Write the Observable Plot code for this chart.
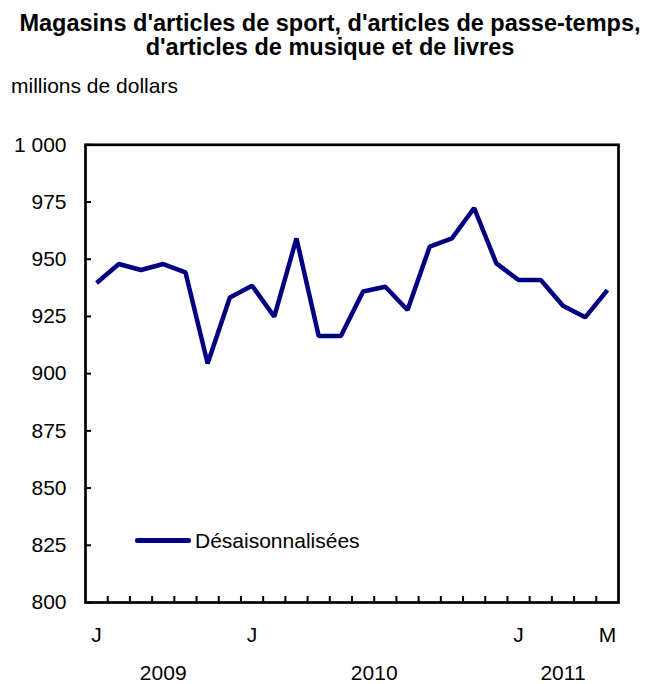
<!DOCTYPE html>
<html>
<head>
<meta charset="utf-8">
<script src="https://cdn.jsdelivr.net/npm/d3@7"></script>
<script src="https://cdn.jsdelivr.net/npm/@observablehq/plot@0.6"></script>
<style>
  html, body { margin: 0; padding: 0; background: white; }
  #wrap { position: relative; width: 652px; height: 684px; font-family: "Liberation Sans", Arial, sans-serif; color: black; }
  #title { position: absolute; left: 8px; top: 12px; width: 644px; text-align: center; font-weight: bold; font-size: 23.5px; line-height: 23.5px; }
  #unit { position: absolute; left: 11px; top: 75px; font-size: 21px; line-height: 21px; }
  #legend { position: absolute; left: 135px; top: 529.5px; font-size: 21px; line-height: 21px; display: flex; align-items: center; }
  #legend .sw { width: 56px; height: 4.5px; background: #000080; border-radius: 2.25px; margin-right: 4px; margin-top: 1px; }
  #chart { position: absolute; left: 0; top: 0; }
</style>
</head>
<body>
<div id="wrap">
  <div id="chart"></div>
  <div id="title">Magasins d'articles de sport, d'articles de passe-temps,<br>d'articles de musique et de livres</div>
  <div id="unit">millions de dollars</div>
  <div id="legend"><span class="sw"></span><span id="legendText"></span></div>
</div>
<script>
const months = ["juin 2009","juil. 2009","août 2009","sept. 2009","oct. 2009","nov. 2009","déc. 2009",
  "janv. 2010","févr. 2010","mars 2010","avr. 2010","mai 2010","juin 2010","juil. 2010","août 2010","sept. 2010","oct. 2010","nov. 2010","déc. 2010",
  "janv. 2011","févr. 2011","mars 2011","avr. 2011","mai 2011"];
const values = [939.6, 947.9, 945.3, 947.9, 944.3, 904.4, 933.3, 938.4, 924.9, 959.1, 916.5, 916.5,
  935.9, 938.0, 927.8, 955.5, 959.1, 972.4, 948.2, 940.9, 940.9, 929.7, 924.6, 936.5];
const seriesName = "Désaisonnalisées";
const tickMonths = ["juin 2009", "janv. 2010", "janv. 2011", "mai 2011"];
const tickLabels = ["J", "J", "J", "M"];
const years = ["2009", "2010", "2011"];
const yTicks = [800, 825, 850, 875, 900, 925, 950, 975, 1000];

document.getElementById("legendText").textContent = seriesName;

const data = months.map((m, i) => ({i, month: m, value: values[i]}));
const tickIdx = tickMonths.map(m => months.indexOf(m));
const boundaries = months.slice(1).map((_, i) => i + 0.5);
const yearCenters = years.map(y => d3.mean(months.map((m, i) => m.endsWith(y) ? i : null).filter(v => v !== null)));
const fr = d3.formatLocale({decimal: ",", thousands: " ", grouping: [3], currency: ["", " $"]});
const fmtY = fr.format(",d");

const chart = Plot.plot({
  width: 652,
  height: 684,
  marginLeft: 85,
  marginRight: 34,
  marginTop: 144.3,
  marginBottom: 82,
  style: {fontFamily: "'Liberation Sans', Arial, sans-serif", fontSize: "21px", color: "black", background: "transparent", overflow: "visible"},
  x: {type: "linear", domain: [-0.5, months.length - 0.5], label: null},
  y: {domain: [800, 1000], label: null},
  marks: [
    Plot.axisY(yTicks, {tickSize: 0, tickPadding: 19, tickFormat: fmtY, fontSize: 21, label: null}),
    Plot.axisY(yTicks, {tickSize: -6, text: null, strokeWidth: 2, label: null}),
    Plot.axisX(boundaries, {tickSize: -6, text: null, strokeWidth: 2, label: null}),
    Plot.axisX(tickIdx, {tickSize: 0, tickPadding: 25, fontSize: 21, label: null, tickFormat: d => tickLabels[tickIdx.indexOf(d)]}),
    Plot.axisX(yearCenters, {tickSize: 0, tickPadding: 63, fontSize: 21, label: null, tickFormat: d => years[yearCenters.indexOf(d)]}),
    Plot.frame({stroke: "black", strokeWidth: 2.7}),
    Plot.line(data, {x: "i", y: "value", stroke: "#000080", strokeWidth: 4.5, strokeLinejoin: "miter", strokeLinecap: "butt"})
  ]
});
document.getElementById("chart").appendChild(chart);
</script>
</body>
</html>
